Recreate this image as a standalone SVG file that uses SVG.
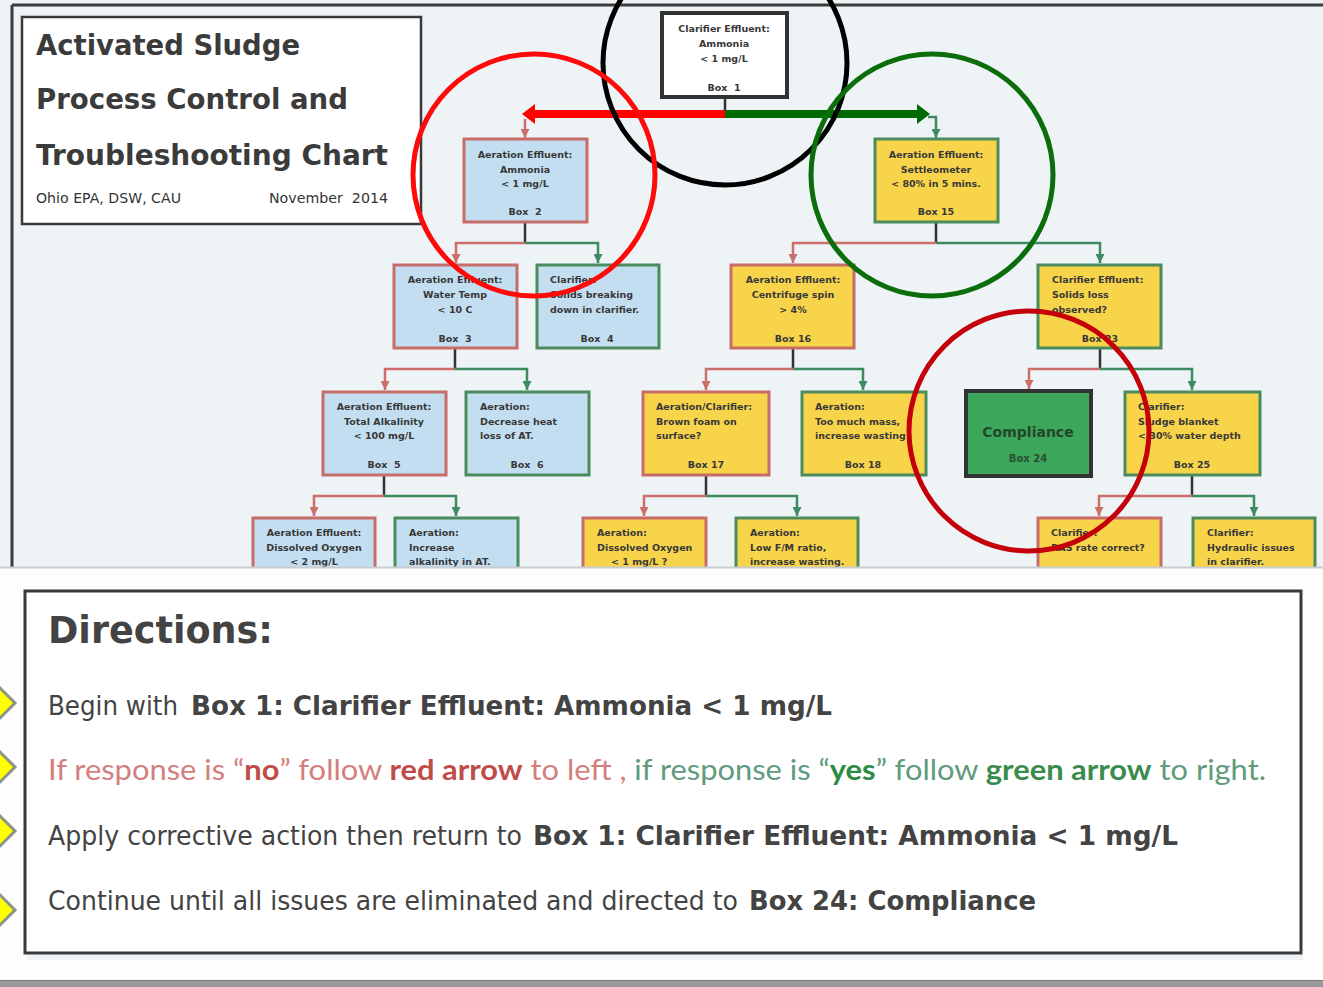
<svg xmlns="http://www.w3.org/2000/svg" width="1323" height="987" viewBox="0 0 1323 987">
  <defs>
    <style>
      .lbl{font-family:"DejaVu Sans",Verdana,sans-serif;font-weight:bold;font-size:9.5px;fill:#383838;white-space:pre}
      .c{text-anchor:middle}
      .blue{fill:#c4def1}
      .yel{fill:#f8d44b}
      .er{stroke:#c76d69;stroke-width:3}
      .eg{stroke:#4b8b5d;stroke-width:3}
      .stem{stroke:#333;stroke-width:2.5;fill:none}
      .no{stroke:#cc6e6a;stroke-width:2.5;fill:none;marker-end:url(#ahNo)}
      .yes{stroke:#3f8a60;stroke-width:2.5;fill:none;marker-end:url(#ahYes)}
      .ring{fill:none;stroke-width:5}
      .ttl{font-family:"DejaVu Sans",Verdana,sans-serif;font-weight:bold;font-size:28px;fill:#3b3b3b}
      .sub{font-family:"DejaVu Sans",Tahoma,sans-serif;font-size:14px;fill:#333;white-space:pre}
      .dir{font-family:"DejaVu Sans",Tahoma,sans-serif;font-size:26px;fill:#434343}
      .b{font-weight:bold}
      .cal{font-family:Lato,"Open Sans",sans-serif;font-size:29px}
      .tip{stroke:#8a9488;stroke-width:3;fill:#ffff00}
    </style>
    <marker id="ahNo" viewBox="0 0 10 10" refX="10" refY="5" markerWidth="9" markerHeight="9" markerUnits="userSpaceOnUse" orient="auto">
      <path d="M0,0L10,5L0,10z" fill="#cc6e6a"/>
    </marker>
    <marker id="ahYes" viewBox="0 0 10 10" refX="10" refY="5" markerWidth="9" markerHeight="9" markerUnits="userSpaceOnUse" orient="auto">
      <path d="M0,0L10,5L0,10z" fill="#3f8a60"/>
    </marker>
  </defs>

  <!-- page backgrounds -->
  <rect x="0" y="0" width="1323" height="987" fill="#fdfdfd"/>
  <rect x="0" y="0" width="1323" height="567" fill="#eef3f6"/>
  <path d="M12,5H1323M12,5V567" fill="none" stroke="#3c3c3c" stroke-width="3"/>

  <!-- title block -->
  <g id="title">
    <rect x="22" y="17" width="399" height="207" fill="#fff" stroke="#3a3a3a" stroke-width="2.5"/>
    <text class="ttl" x="36" y="55" textLength="264" lengthAdjust="spacingAndGlyphs">Activated Sludge</text>
    <text class="ttl" x="36" y="109" textLength="312" lengthAdjust="spacingAndGlyphs">Process Control and</text>
    <text class="ttl" x="36" y="165" textLength="352" lengthAdjust="spacingAndGlyphs">Troubleshooting Chart</text>
    <text class="sub" x="36" y="203" textLength="145" lengthAdjust="spacingAndGlyphs">Ohio EPA, DSW, CAU</text>
    <text class="sub" x="269" y="203" textLength="119" lengthAdjust="spacingAndGlyphs">November  2014</text>
  </g>

  <!-- connectors -->
  <g id="connectors">
    <path class="stem" d="M725,98V114"/>
    <!-- main no / yes split -->
    <path d="M727,114H535" stroke="#ff0000" stroke-width="8" fill="none"/>
    <path d="M522,114L535,104V124z" fill="#ff0000"/>
    <path d="M725,114H917" stroke="#006b00" stroke-width="8" fill="none"/>
    <path d="M930,114L917,104V124z" fill="#006b00"/>
    <path class="no" d="M525,119V138"/>
    <path class="yes" d="M928,117H936V138"/>

    <path class="stem" d="M525,223V243"/>
    <path class="no" d="M525,243H456V263"/>
    <path class="yes" d="M525,243H598V263"/>

    <path class="stem" d="M936,223V243"/>
    <path class="no" d="M936,243H793V263"/>
    <path class="yes" d="M936,243H1100V263"/>

    <path class="stem" d="M455,349V369"/>
    <path class="no" d="M455,369H385V390"/>
    <path class="yes" d="M455,369H527V390"/>

    <path class="stem" d="M793,349V369"/>
    <path class="no" d="M793,369H706V390"/>
    <path class="yes" d="M793,369H863V390"/>

    <path class="stem" d="M1100,349V369"/>
    <path class="no" d="M1100,369H1029V389"/>
    <path class="yes" d="M1100,369H1192V390"/>

    <path class="stem" d="M384,476V496"/>
    <path class="no" d="M384,496H314V516"/>
    <path class="yes" d="M384,496H456V516"/>

    <path class="stem" d="M706,476V496"/>
    <path class="no" d="M706,496H644V516"/>
    <path class="yes" d="M706,496H797V516"/>

    <path class="stem" d="M1192,476V496"/>
    <path class="no" d="M1192,496H1099V516"/>
    <path class="yes" d="M1192,496H1254V516"/>
  </g>

  <!-- row 1 -->
  <g id="box1">
    <rect x="662" y="13" width="125" height="84" fill="#fff" stroke="#333" stroke-width="4"/>
    <text class="lbl c" x="724" y="32">Clarifier Effluent:</text>
    <text class="lbl c" x="724" y="47">Ammonia</text>
    <text class="lbl c" x="724" y="62">&lt; 1 mg/L</text>
    <text class="lbl c" x="724" y="91">Box  1</text>
  </g>

  <!-- row 2 -->
  <g id="box2">
    <rect class="blue er" x="464" y="139" width="123" height="83"/>
    <text class="lbl c" x="525" y="158">Aeration Effluent:</text>
    <text class="lbl c" x="525" y="173">Ammonia</text>
    <text class="lbl c" x="525" y="187">&lt; 1 mg/L</text>
    <text class="lbl c" x="525" y="215">Box  2</text>
  </g>
  <g id="box15">
    <rect class="yel eg" x="875" y="139" width="123" height="83"/>
    <text class="lbl c" x="936" y="158">Aeration Effluent:</text>
    <text class="lbl c" x="936" y="173">Settleometer</text>
    <text class="lbl c" x="936" y="187">&lt; 80% in 5 mins.</text>
    <text class="lbl c" x="936" y="215">Box 15</text>
  </g>

  <!-- row 3 -->
  <g id="box3">
    <rect class="blue er" x="394" y="265" width="123" height="83"/>
    <text class="lbl c" x="455" y="283">Aeration Effluent:</text>
    <text class="lbl c" x="455" y="298">Water Temp</text>
    <text class="lbl c" x="455" y="313">&lt; 10 C</text>
    <text class="lbl c" x="455" y="342">Box  3</text>
  </g>
  <g id="box4">
    <rect class="blue eg" x="537" y="265" width="122" height="83"/>
    <text class="lbl" x="550" y="283">Clarifier:</text>
    <text class="lbl" x="550" y="298">Solids breaking</text>
    <text class="lbl" x="550" y="313">down in clarifier.</text>
    <text class="lbl c" x="597" y="342">Box  4</text>
  </g>
  <g id="box16">
    <rect class="yel er" x="731" y="265" width="123" height="83"/>
    <text class="lbl c" x="793" y="283">Aeration Effluent:</text>
    <text class="lbl c" x="793" y="298">Centrifuge spin</text>
    <text class="lbl c" x="793" y="313">&gt; 4%</text>
    <text class="lbl c" x="793" y="342">Box 16</text>
  </g>
  <g id="box23">
    <rect class="yel eg" x="1038" y="265" width="123" height="83"/>
    <text class="lbl" x="1052" y="283">Clarifier Effluent:</text>
    <text class="lbl" x="1052" y="298">Solids loss</text>
    <text class="lbl" x="1052" y="313">observed?</text>
    <text class="lbl c" x="1100" y="342">Box 23</text>
  </g>

  <!-- row 4 -->
  <g id="box5">
    <rect class="blue er" x="323" y="392" width="123" height="83"/>
    <text class="lbl c" x="384" y="410">Aeration Effluent:</text>
    <text class="lbl c" x="384" y="425">Total Alkalinity</text>
    <text class="lbl c" x="384" y="439">&lt; 100 mg/L</text>
    <text class="lbl c" x="384" y="468">Box  5</text>
  </g>
  <g id="box6">
    <rect class="blue eg" x="466" y="392" width="123" height="83"/>
    <text class="lbl" x="480" y="410">Aeration:</text>
    <text class="lbl" x="480" y="425">Decrease heat</text>
    <text class="lbl" x="480" y="439">loss of AT.</text>
    <text class="lbl c" x="527" y="468">Box  6</text>
  </g>
  <g id="box17">
    <rect class="yel er" x="643" y="392" width="126" height="83"/>
    <text class="lbl" x="656" y="410">Aeration/Clarifier:</text>
    <text class="lbl" x="656" y="425">Brown foam on</text>
    <text class="lbl" x="656" y="439">surface?</text>
    <text class="lbl c" x="706" y="468">Box 17</text>
  </g>
  <g id="box18">
    <rect class="yel eg" x="802" y="392" width="124" height="83"/>
    <text class="lbl" x="815" y="410">Aeration:</text>
    <text class="lbl" x="815" y="425">Too much mass,</text>
    <text class="lbl" x="815" y="439">increase wasting</text>
    <text class="lbl c" x="863" y="468">Box 18</text>
  </g>
  <g id="box24">
    <rect x="966" y="391" width="125" height="85" fill="#3ca75a" stroke="#333" stroke-width="4"/>
    <text class="c" x="1028" y="437" font-family="DejaVu Sans,Verdana,sans-serif" font-weight="bold" font-size="14" fill="#22462c">Compliance</text>
    <text class="lbl c" x="1028" y="462" style="fill:#2a4d33;font-size:10px">Box 24</text>
  </g>
  <g id="box25">
    <rect class="yel eg" x="1125" y="392" width="135" height="83"/>
    <text class="lbl" x="1138" y="410">Clarifier:</text>
    <text class="lbl" x="1138" y="425">Sludge blanket</text>
    <text class="lbl" x="1138" y="439">&lt; 30% water depth</text>
    <text class="lbl c" x="1192" y="468">Box 25</text>
  </g>

  <!-- row 5 (continues below the fold) -->
  <g id="low-do-aeration">
    <rect class="blue er" x="253" y="518" width="122" height="83"/>
    <text class="lbl c" x="314" y="536">Aeration Effluent:</text>
    <text class="lbl c" x="314" y="551">Dissolved Oxygen</text>
    <text class="lbl c" x="314" y="565">&lt; 2 mg/L</text>
  </g>
  <g id="add-alkalinity">
    <rect class="blue eg" x="395" y="518" width="123" height="83"/>
    <text class="lbl" x="409" y="536">Aeration:</text>
    <text class="lbl" x="409" y="551">Increase</text>
    <text class="lbl" x="409" y="565">alkalinity in AT.</text>
  </g>
  <g id="low-do-foam">
    <rect class="yel er" x="583" y="518" width="123" height="83"/>
    <text class="lbl" x="597" y="536">Aeration:</text>
    <text class="lbl" x="597" y="551">Dissolved Oxygen</text>
    <text class="lbl" x="611" y="565">&lt; 1 mg/L ?</text>
  </g>
  <g id="low-fm">
    <rect class="yel eg" x="736" y="518" width="122" height="83"/>
    <text class="lbl" x="750" y="536">Aeration:</text>
    <text class="lbl" x="750" y="551">Low F/M ratio,</text>
    <text class="lbl" x="750" y="565">increase wasting.</text>
  </g>
  <g id="ras-rate">
    <rect class="yel er" x="1038" y="518" width="123" height="83"/>
    <text class="lbl" x="1051" y="536">Clarifier:</text>
    <text class="lbl" x="1051" y="551">RAS rate correct?</text>
  </g>
  <g id="hydraulic">
    <rect class="yel eg" x="1193" y="518" width="122" height="83"/>
    <text class="lbl" x="1207" y="536">Clarifier:</text>
    <text class="lbl" x="1207" y="551">Hydraulic issues</text>
    <text class="lbl" x="1207" y="565">in clarifier.</text>
  </g>

  <!-- highlight rings -->
  <g id="rings">
    <circle class="ring" cx="725" cy="63" r="122" stroke="#000" stroke-width="4.5"/>
    <circle class="ring" cx="534" cy="175" r="121" stroke="#ff0a0a"/>
    <circle class="ring" cx="932" cy="175" r="121" stroke="#0b6d0b"/>
    <circle class="ring" cx="1029" cy="431" r="120" stroke="#c4000a"/>
  </g>

  <!-- directions panel -->
  <g id="directions">
    <rect x="0" y="567" width="1323" height="420" fill="#fdfdfd"/>
    <line x1="0" y1="567.5" x2="1323" y2="567.5" stroke="#c9cdd0" stroke-width="2"/>
    <rect x="27" y="955" width="1276" height="5" fill="#eef2f6"/>
    <rect x="25" y="591" width="1276" height="362" fill="#fff" stroke="#383838" stroke-width="3"/>
    <text class="dir b" x="48" y="643" textLength="225" lengthAdjust="spacingAndGlyphs" style="font-size:37px">Directions:</text>

    <text class="dir" x="48" y="715" textLength="130" lengthAdjust="spacingAndGlyphs">Begin with</text>
    <text class="dir b" x="191" y="715" textLength="641" lengthAdjust="spacingAndGlyphs">Box 1: Clarifier Effluent: Ammonia &lt; 1 mg/L</text>

    <text class="cal" x="48" y="780" textLength="1218" lengthAdjust="spacingAndGlyphs"><tspan fill="#d47f7d">If response is “</tspan><tspan fill="#c04c4a" font-weight="bold">no</tspan><tspan fill="#d47f7d">” follow </tspan><tspan fill="#c04c4a" font-weight="bold">red arrow</tspan><tspan fill="#d47f7d"> to left ,</tspan><tspan fill="#5f9b7c"> if response is “</tspan><tspan fill="#2f8a44" font-weight="bold">yes</tspan><tspan fill="#5f9b7c">” follow </tspan><tspan fill="#3a8c4e" font-weight="bold">green arrow</tspan><tspan fill="#5f9b7c"> to right.</tspan></text>

    <text class="dir" x="48" y="845" textLength="474" lengthAdjust="spacingAndGlyphs">Apply corrective action then return to</text>
    <text class="dir b" x="533" y="845" textLength="645" lengthAdjust="spacingAndGlyphs">Box 1: Clarifier Effluent: Ammonia &lt; 1 mg/L</text>

    <text class="dir" x="48" y="910" textLength="690" lengthAdjust="spacingAndGlyphs">Continue until all issues are eliminated and directed to</text>
    <text class="dir b" x="749" y="910" textLength="287" lengthAdjust="spacingAndGlyphs">Box 24: Compliance</text>

    <polygon class="tip" points="-15,703 0,688 15,703 0,718"/>
    <polygon class="tip" points="-15,767 0,752 15,767 0,782"/>
    <polygon class="tip" points="-15,831 0,816 15,831 0,846"/>
    <polygon class="tip" points="-15,910 0,895 15,910 0,925"/>

    <rect x="0" y="980" width="1323" height="7" fill="#9b9b9b"/>
    <line x1="0" y1="980.5" x2="1323" y2="980.5" stroke="#7a7a7a" stroke-width="1"/>
  </g>
</svg>
